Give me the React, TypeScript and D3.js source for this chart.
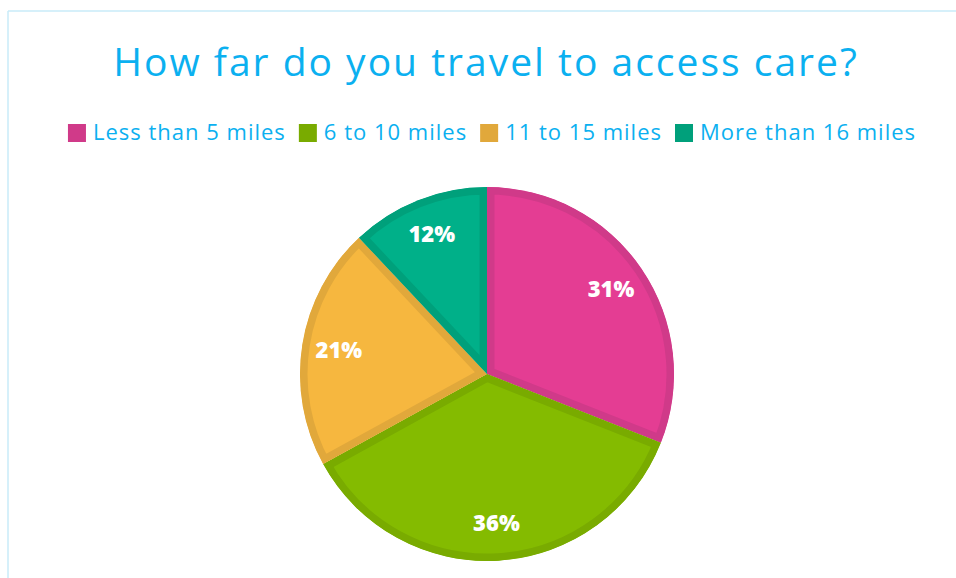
import * as d3 from 'd3';
import { useEffect, useRef } from "react";

const categories = ["Less than 5 miles", "6 to 10 miles", "11 to 15 miles", "More than 16 miles"];
const values = [31, 36, 21, 12];
const fillColors = ["#e43d93", "#84bb00", "#f6b73f", "#00b089"];
const edgeColors = ["#d03a89", "#79ab00", "#e1a83b", "#00a07b"];
const title = "How far do you travel to access care?";

const W = 956;
const H = 578;

const App = () => {
    const svgRef = useRef<SVGSVGElement>(null);

    useEffect(() => {
        const svg = d3.select(svgRef.current)
            .attr('width', W)
            .attr('height', H);
        svg.selectAll('*').remove();

        const font = "'Open Sans', sans-serif";
        const blue = "#0bb0f0";

        // frame lines (top + left)
        svg.append('line').attr('x1', 8).attr('x2', W).attr('y1', 11).attr('y2', 11)
            .attr('stroke', '#c8ebf8').attr('stroke-width', 1.5);
        svg.append('line').attr('x1', 8).attr('x2', 8).attr('y1', 11).attr('y2', H)
            .attr('stroke', '#c8ebf8').attr('stroke-width', 1.5);

        svg.append('text')
            .attr('x', 486)
            .attr('y', 76)
            .attr('text-anchor', 'middle')
            .attr('fill', blue)
            .style('font-family', font)
            .style('font-size', '39px')
            .style('letter-spacing', '2px')
            .text(title);

        // legend, measured then centred
        const legend = svg.append('g');
        let x = 0;
        const box = 18, gap = 7, itemGap = 13;
        categories.forEach((c, i) => {
            const g = legend.append('g').attr('transform', `translate(${x},0)`);
            g.append('rect').attr('x', 0).attr('y', -16).attr('width', box).attr('height', box)
                .attr('fill', edgeColors[i]);
            const t = g.append('text')
                .attr('x', box + gap)
                .attr('y', 0)
                .attr('fill', blue)
                .style('font-family', font)
                .style('font-size', '22px')
                .style('letter-spacing', '1px')
                .text(c);
            const w = (t.node() as SVGTextElement).getComputedTextLength();
            x += box + gap + w + itemGap;
        });
        const total = x - itemGap;
        legend.attr('transform', `translate(${492 - total / 2},140)`);

        // pie
        const cx = 487, cy = 374, r = 187;
        const pie = d3.pie<number>().sort(null).value(d => d);
        const arc = d3.arc<d3.PieArcDatum<number>>().innerRadius(0).outerRadius(r);
        const arcs = pie(values);
        const pg = svg.append('g').attr('transform', `translate(${cx},${cy})`);
        const defs = svg.append('defs');

        arcs.forEach((a, i) => {
            defs.append('clipPath').attr('id', 'clip' + i)
                .append('path').attr('d', arc(a));
            pg.append('path')
                .attr('d', arc(a))
                .attr('fill', fillColors[i])
                .attr('stroke', edgeColors[i])
                .attr('stroke-width', 15)
                .attr('stroke-linejoin', 'miter')
                .attr('clip-path', `url(#clip${i})`);
        });

        const labelArc = d3.arc<d3.PieArcDatum<number>>().innerRadius(150).outerRadius(150);
        arcs.forEach((a) => {
            const [lx, ly] = labelArc.centroid(a);
            pg.append('text')
                .attr('x', lx)
                .attr('y', ly)
                .attr('dy', '0.35em')
                .attr('text-anchor', 'middle')
                .attr('fill', 'white')
                .style('font-family', font)
                .style('font-weight', 800)
                .style('font-size', '22px')
                .text(a.data + '%');
        });
    }, []);

    return (
        <div style={{ position: 'absolute', left: 0, top: 0, background: 'white' }}>
            <svg ref={svgRef} style={{ display: 'block' }} />
        </div>
    );
}

export default App;
